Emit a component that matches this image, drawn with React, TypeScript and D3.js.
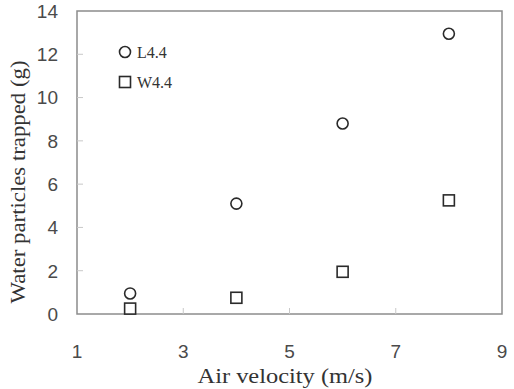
import * as d3 from 'd3';
import React, { useEffect } from 'react';

const velocities = [2, 4, 6, 8];
const seriesL = [0.95, 5.1, 8.8, 12.95];
const seriesW = [0.25, 0.75, 1.95, 5.25];
const xTicks = [1, 3, 5, 7, 9];
const yTicks = [0, 2, 4, 6, 8, 10, 12, 14];
const legendLabels = ['L4.4', 'W4.4'];

export default function App() {
  const ref = React.useRef<SVGSVGElement>(null);

  useEffect(() => {
    if (!ref.current) return;
    const svg = d3.select(ref.current);
    svg.selectAll('*').remove();

    const left = 77;
    const right = 502;
    const top = 11;
    const bottom = 314;

    const x = d3.scaleLinear().domain([1, 9]).range([left, right]);
    const y = d3.scaleLinear().domain([0, 14]).range([bottom, top]);
    const axisColor = '#8c8c8c';
    const labelColor = '#4a4a4a';

    // frame
    svg
      .append('rect')
      .attr('x', left)
      .attr('y', top)
      .attr('width', right - left)
      .attr('height', bottom - top)
      .attr('fill', 'none')
      .attr('stroke', axisColor)
      .attr('stroke-width', 1.5);

    // y ticks (inside)
    svg
      .append('g')
      .selectAll('line')
      .data(yTicks.slice(1, -1))
      .enter()
      .append('line')
      .attr('x1', left)
      .attr('x2', left + 6)
      .attr('y1', d => y(d))
      .attr('y2', d => y(d))
      .attr('stroke', '#c8c8c8')
      .attr('stroke-width', 1);

    svg
      .append('g')
      .selectAll('text')
      .data(yTicks)
      .enter()
      .append('text')
      .attr('x', left - 19)
      .attr('y', d => y(d))
      .attr('dy', '0.36em')
      .attr('text-anchor', 'end')
      .attr('font-family', '"Liberation Sans", Arial, sans-serif')
      .attr('font-size', 19)
      .attr('fill', labelColor)
      .text(d => d);

    // x ticks (inside)
    svg
      .append('g')
      .selectAll('line')
      .data(xTicks.slice(1, -1))
      .enter()
      .append('line')
      .attr('x1', d => x(d))
      .attr('x2', d => x(d))
      .attr('y1', bottom)
      .attr('y2', bottom - 6)
      .attr('stroke', '#c8c8c8')
      .attr('stroke-width', 1);

    svg
      .append('g')
      .selectAll('text')
      .data(xTicks)
      .enter()
      .append('text')
      .attr('x', d => x(d))
      .attr('y', 358)
      .attr('text-anchor', 'middle')
      .attr('font-family', '"Liberation Sans", Arial, sans-serif')
      .attr('font-size', 19)
      .attr('fill', labelColor)
      .text(d => d);

    // axis titles
    svg
      .append('text')
      .attr('x', 285)
      .attr('y', 383)
      .attr('text-anchor', 'middle')
      .attr('font-family', '"Liberation Serif", "Times New Roman", serif')
      .attr('font-size', 21)
      .attr('textLength', 175)
      .attr('lengthAdjust', 'spacingAndGlyphs')
      .attr('fill', '#333')
      .text('Air  velocity (m/s)');

    svg
      .append('text')
      .attr('transform', `translate(25,182) rotate(-90)`)
      .attr('text-anchor', 'middle')
      .attr('font-family', '"Liberation Serif", "Times New Roman", serif')
      .attr('font-size', 21)
      .attr('textLength', 243)
      .attr('lengthAdjust', 'spacingAndGlyphs')
      .attr('fill', '#333')
      .text('Water particles trapped (g)');

    const markStroke = '#2a2a2a';

    // circles (L4.4)
    svg
      .append('g')
      .selectAll('circle')
      .data(velocities.map((v, i) => ({ v, val: seriesL[i] })))
      .enter()
      .append('circle')
      .attr('cx', d => x(d.v))
      .attr('cy', d => y(d.val))
      .attr('r', 5.5)
      .attr('fill', 'white')
      .attr('stroke', markStroke)
      .attr('stroke-width', 1.6);

    // squares (W4.4)
    const sq = 11;
    svg
      .append('g')
      .selectAll('rect')
      .data(velocities.map((v, i) => ({ v, val: seriesW[i] })))
      .enter()
      .append('rect')
      .attr('x', d => x(d.v) - sq / 2)
      .attr('y', d => y(d.val) - sq / 2)
      .attr('width', sq)
      .attr('height', sq)
      .attr('fill', 'white')
      .attr('stroke', markStroke)
      .attr('stroke-width', 1.6);

    // legend
    const lg = svg.append('g').attr('transform', 'translate(125,52)');
    lg.append('circle')
      .attr('cx', 0)
      .attr('cy', 0)
      .attr('r', 5.5)
      .attr('fill', 'white')
      .attr('stroke', markStroke)
      .attr('stroke-width', 1.6);
    lg.append('rect')
      .attr('x', -sq / 2)
      .attr('y', 30 - sq / 2)
      .attr('width', sq)
      .attr('height', sq)
      .attr('fill', 'white')
      .attr('stroke', markStroke)
      .attr('stroke-width', 1.6);
    lg.selectAll('text')
      .data(legendLabels)
      .enter()
      .append('text')
      .attr('x', 12)
      .attr('y', (d, i) => i * 30)
      .attr('dy', '0.35em')
      .attr('font-family', '"Liberation Serif", "Times New Roman", serif')
      .attr('font-size', 16)
      .attr('fill', '#333')
      .text(d => d);
  }, []);

  return (
    <svg
      ref={ref}
      width={514}
      height={389}
      style={{ position: 'absolute', left: 0, top: 0, background: 'white' }}
    />
  );
}
